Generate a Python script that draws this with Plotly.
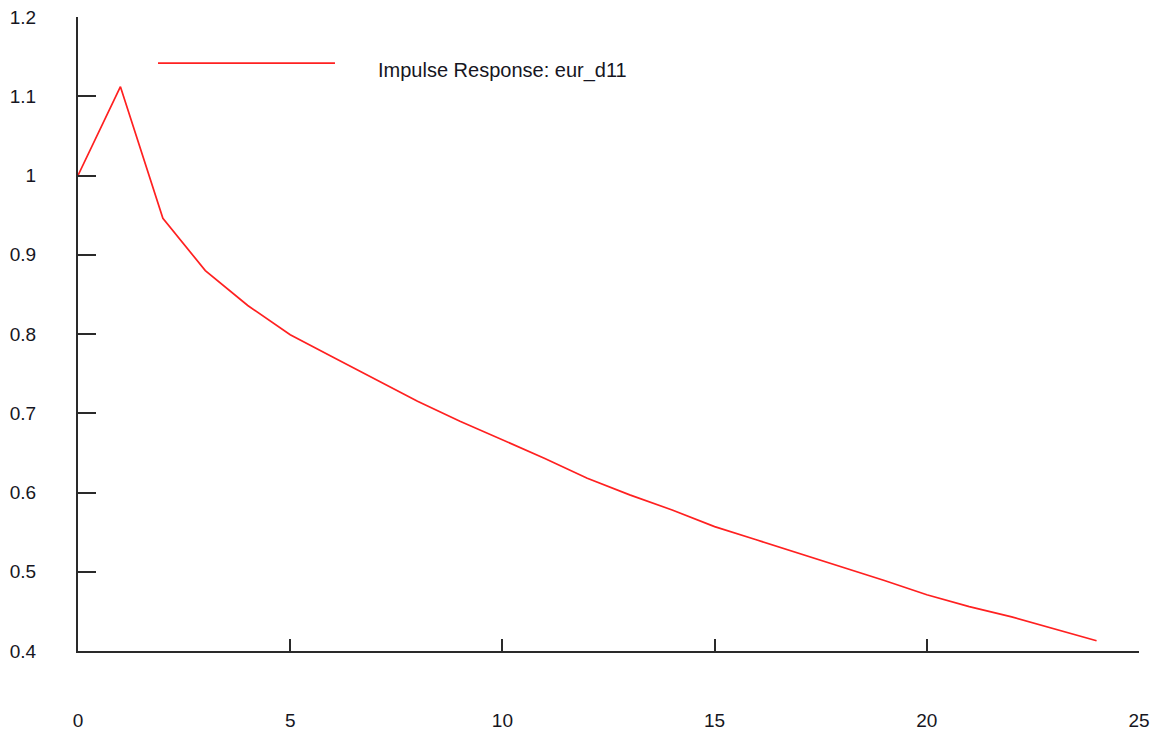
import plotly.graph_objects as go

# impulse response horizon (periods) and values
periods = list(range(25))
response = [1.000, 1.112, 0.946, 0.880, 0.836, 0.799, 0.771, 0.743, 0.715, 0.690,
            0.667, 0.643, 0.618, 0.597, 0.578, 0.557, 0.540, 0.523, 0.506, 0.489,
            0.471, 0.456, 0.443, 0.428, 0.413]
series_name = "Impulse Response: eur_d11"

x_ticks = [0, 5, 10, 15, 20, 25]
y_ticks = [0.4, 0.5, 0.6, 0.7, 0.8, 0.9, 1.0, 1.1, 1.2]
y_labels = ["0.4", "0.5", "0.6", "0.7", "0.8", "0.9", "1", "1.1", "1.2"]

axis_col = "#2a2a2a"
text_col = "#161622"
font_fam = "Liberation Sans, Arial, sans-serif"

fig = go.Figure()
fig.add_trace(go.Scatter(
    x=periods, y=response, mode="lines", name=series_name,
    line=dict(color="#ff2020", width=1.7),
    showlegend=False,
))

# legend drawn by hand to get the long sample line
fig.add_shape(type="line", xref="paper", yref="paper",
              x0=0.0754, x1=0.2422, y0=0.9274, y1=0.9274,
              line=dict(color="#ff2020", width=1.7))
fig.add_annotation(text=series_name, xref="paper", yref="paper",
                   x=0.2805, y=0.915, xanchor="left", yanchor="middle",
                   showarrow=False, font=dict(size=20, color=text_col, family=font_fam))

# page body has an 8px margin on the left/top, so the figure is shrunk by that much
fig.update_layout(
    width=1152, height=728,
    margin=dict(l=70, r=21, t=9, b=85, autoexpand=False),
    plot_bgcolor="white", paper_bgcolor="white",
    font=dict(family=font_fam, size=19, color=text_col),
)
fig.update_xaxes(
    range=[0, 25], tickvals=x_ticks, showgrid=False, zeroline=False,
    showline=True, linecolor=axis_col, linewidth=2,
    ticks="inside", ticklen=12, tickwidth=2, tickcolor=axis_col,
    ticklabelstandoff=51, automargin=False, ticklabeloverflow="allow",
)
fig.update_yaxes(
    range=[0.4, 1.2], tickvals=y_ticks, ticktext=y_labels, showgrid=False, zeroline=False,
    showline=True, linecolor=axis_col, linewidth=2,
    ticks="inside", ticklen=18, tickwidth=2, tickcolor=axis_col,
    ticklabelstandoff=36, automargin=False, ticklabeloverflow="allow",
)

fig.write_html("out.html")
